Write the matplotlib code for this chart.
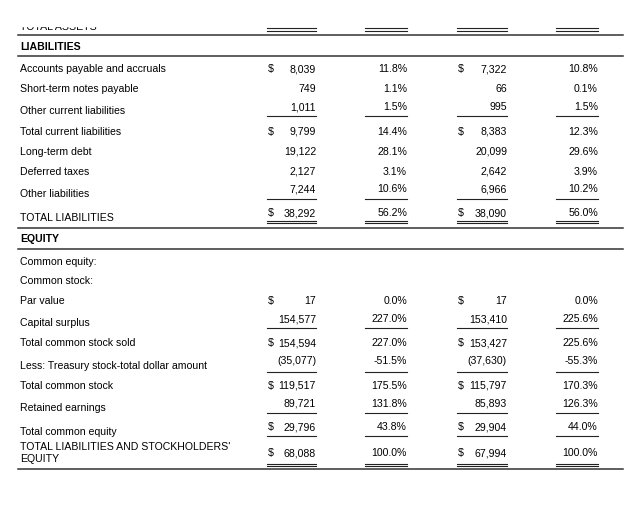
import matplotlib
matplotlib.use("Agg")
import matplotlib.pyplot as plt
from matplotlib.patches import Rectangle

plt.rcParams['font.family'] = ['Liberation Sans', 'DejaVu Sans']

# ---------------- data ----------------
labels = [
    "Accounts payable and accruals", "Short-term notes payable", "Other current liabilities",
    "Total current liabilities", "Long-term debt", "Deferred taxes", "Other liabilities",
    "TOTAL LIABILITIES",
    "Common equity:", "Common stock:",
    "Par value", "Capital surplus", "Total common stock sold",
    "Less: Treasury stock-total dollar amount", "Total common stock", "Retained earnings",
    "Total common equity", "TOTAL LIABILITIES AND STOCKHOLDERS'\nEQUITY",
]
amount_a = [8039, 749, 1011, 9799, 19122, 2127, 7244, 38292, None, None,
            17, 154577, 154594, -35077, 119517, 89721, 29796, 68088]
pct_a = [11.8, 1.1, 1.5, 14.4, 28.1, 3.1, 10.6, 56.2, None, None,
         0.0, 227.0, 227.0, -51.5, 175.5, 131.8, 43.8, 100.0]
amount_b = [7322, 66, 995, 8383, 20099, 2642, 6966, 38090, None, None,
            17, 153410, 153427, -37630, 115797, 85893, 29904, 67994]
pct_b = [10.8, 0.1, 1.5, 12.3, 29.6, 3.9, 10.2, 56.0, None, None,
         0.0, 225.6, 225.6, -55.3, 170.3, 126.3, 44.0, 100.0]
dollar = [True, False, False, True, False, False, False, True, False, False,
          True, False, True, False, True, False, True, True]
underline = [None, None, "single", None, None, None, "single", "double", None, None,
             None, "single", None, "single", None, "single", "single", "double"]
headings = ["LIABILITIES", "EQUITY"]
cut_heading = "TOTAL ASSETS"

# ---------------- layout (pixels) ----------------
W, H = 633, 523
label_y = [69, 89, 111, 132, 152, 172, 194, 218, 262, 281, 301, 323, 343, 366, 386, 408, 432, 453]
value_y = [69, 89, 107, 132, 152, 172, 189, 213, None, None, 301, 319, 343, 361, 386, 404, 427, 453]
uline_y = [None, None, 115.5, None, None, None, 198.5, 220.5, None, None,
           None, 327.5, None, 372, None, 412.5, 435.5, 463.5]
heading_y = [47, 239]
rules_y = [35, 56, 227.5, 248.5, 469]
cols = [(267, 316), (365, 407), (457, 507), (556, 598)]
label_x = 20
fs = 7.6
txt_color = "#000000"

fig = plt.figure(figsize=(W / 100, H / 100), dpi=100)
ax = fig.add_axes([0, 0, 1, 1])
ax.set_xlim(0, W)
ax.set_ylim(H, 0)
ax.axis("off")

def fmt_amt(v):
    return f"({abs(v):,})" if v < 0 else f"{v:,}"

def fmt_pct(v):
    return f"{v:.1f}%"

# cut-off TOTAL ASSETS heading at the very top
ax.text(label_x, 30.5, cut_heading, fontsize=fs, va="baseline", ha="left", color=txt_color)
ax.add_patch(Rectangle((0, 0), W, 25.5, color="white", zorder=5))
for x0, x1 in cols:
    ax.plot([x0, x1], [28, 28], color="#222222", lw=0.8)
    ax.plot([x0, x1], [30.5, 30.5], color="#222222", lw=0.8)

for ry in rules_y:
    ax.plot([18, 623], [ry, ry], color="#333333", lw=1.1)

for h, hy in zip(headings, heading_y):
    ax.text(label_x, hy, h, fontsize=fs, fontweight="bold", va="center", ha="left", color=txt_color)

for i, lab in enumerate(labels):
    ax.text(label_x, label_y[i], lab, fontsize=fs, va="center", ha="left",
            color=txt_color, linespacing=1.15)
    if amount_a[i] is None:
        continue
    vy = value_y[i]
    vals = [fmt_amt(amount_a[i]), fmt_pct(pct_a[i]), fmt_amt(amount_b[i]), fmt_pct(pct_b[i])]
    for c, (x0, x1) in enumerate(cols):
        ax.text(x1, vy, vals[c], fontsize=fs, va="center", ha="right", color=txt_color)
        if dollar[i] and c in (0, 2):
            ax.text(x0 + 1, vy, "$", fontsize=fs, va="center", ha="left", color=txt_color)
        u = underline[i]
        if u == "single":
            ax.plot([x0, x1], [uline_y[i], uline_y[i]], color="#222222", lw=0.8)
        elif u == "double":
            ax.plot([x0, x1], [uline_y[i], uline_y[i]], color="#222222", lw=0.8)
            ax.plot([x0, x1], [uline_y[i] + 2.5, uline_y[i] + 2.5], color="#222222", lw=0.8)

fig.savefig("out.png", dpi=100)
